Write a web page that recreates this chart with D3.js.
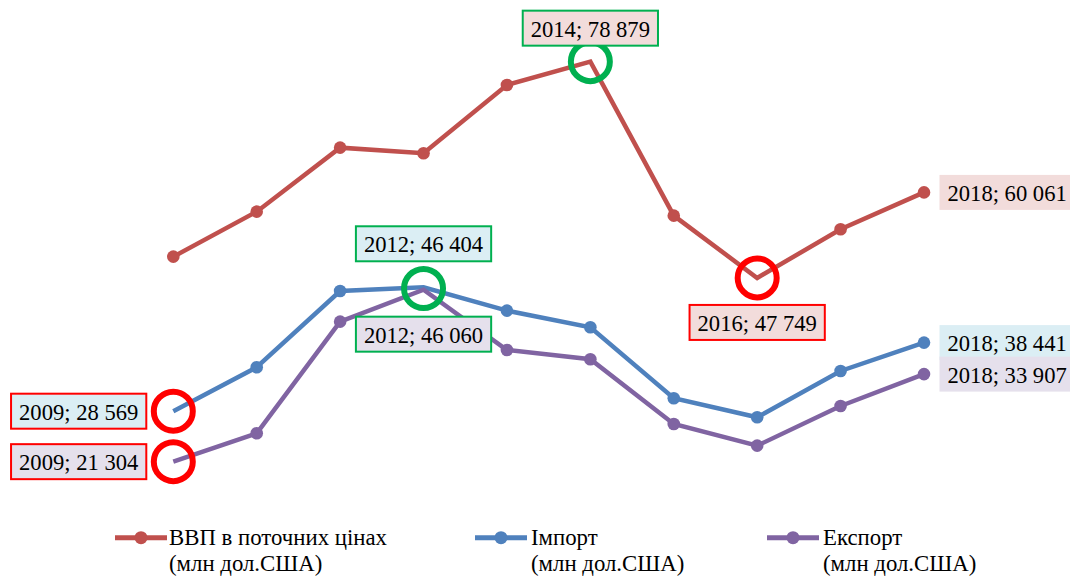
<!DOCTYPE html>
<html>
<head>
<meta charset="utf-8">
<script src="https://cdn.jsdelivr.net/npm/d3@7"></script>
<style>
  body { margin: 0; background: #fff; }
  svg { display: block; font-family: "Liberation Serif", "Times New Roman", serif; }
</style>
</head>
<body>
<svg width="1070" height="576"></svg>
<script>
// дані
const years = [2009, 2010, 2011, 2012, 2013, 2014, 2015, 2016, 2017, 2018]
const gdp = [50811, 57288, 66500, 65694, 75525, 78879, 56713, 47749, 54755, 60061]
const imports = [28569, 34892, 45874, 46404, 43039, 40649, 30430, 27695, 34359, 38441]
const exports = [21304, 25392, 41455, 46060, 37382, 36043, 26730, 23607, 29321, 33907]
const seriesNames = ["ВВП в поточних цінах", "Імпорт", "Експорт"]
const unitLabel = "(млн дол.США)"

const series = [
    { name: seriesNames[0], values: gdp, color: "#C0504D", fill: "#F2DCDB" },
    { name: seriesNames[1], values: imports, color: "#4F81BD", fill: "#DBEEF4" },
    { name: seriesNames[2], values: exports, color: "#8064A2", fill: "#E5E0EC" }
]

// позначені точки: [серія, рік, колір кола/рамки, розташування підпису]
const marked = [
    [1, 2009, "#FF0000", "left"],
    [2, 2009, "#FF0000", "left"],
    [1, 2012, "#00B050", "above"],
    [2, 2012, "#00B050", "below"],
    [0, 2014, "#00B050", "aboveTight"],
    [0, 2016, "#FF0000", "below"]
]
const endLabels = [0, 1, 2]

const svg = d3.select("svg")

const x = d3.scaleLinear()
    .domain([2009, 2018])
    .range([173.3, 924])

const y = d3.scaleLinear()
    .domain([10000, 90000])
    .range([540.2, -15.6])

const locale = d3.formatLocale({ decimal: ",", thousands: " ", grouping: [3], currency: ["", ""] })
const fmt = locale.format(",d")

const line = d3.line()
    .x((d, i) => x(years[i]))
    .y(d => y(d))

const isMarked = (s, yr) => marked.some(m => m[0] === s && m[1] === yr)

series.forEach((s, si) => {
    svg.append("path")
        .datum(s.values)
        .attr("d", line)
        .attr("fill", "none")
        .attr("stroke", s.color)
        .attr("stroke-width", 4.5)
        .attr("stroke-linejoin", "miter")

    svg.selectAll(".dot" + si)
        .data(s.values.map((v, i) => ({ v, yr: years[i] })).filter(d => !isMarked(si, d.yr)))
        .enter().append("circle")
        .attr("cx", d => x(d.yr))
        .attr("cy", d => y(d.v))
        .attr("r", 6.3)
        .attr("fill", s.color)
})

// кола навколо екстремумів
const rings = [
    [1, 2009, "#FF0000"], [2, 2009, "#FF0000"],
    [1, 2012, "#00B050"], [0, 2014, "#00B050"], [0, 2016, "#FF0000"]
]
svg.selectAll(".ring")
    .data(rings)
    .enter().append("circle")
    .attr("cx", d => x(d[1]))
    .attr("cy", d => d[1] === 2012 ? (y(imports[3]) + y(exports[3])) / 2 : y(series[d[0]].values[years.indexOf(d[1])]))
    .attr("r", 19.5)
    .attr("fill", "none")
    .attr("stroke", d => d[2])
    .attr("stroke-width", 6)

function label(si, yr, border, place) {
    const v = series[si].values[years.indexOf(yr)]
    const px = x(yr), py = y(v)
    const g = svg.append("g")
    const rect = g.append("rect")
    const t = g.append("text")
        .text(yr + "; " + fmt(v))
        .attr("font-size", 22.6)
        .attr("fill", "#000")
    const w = t.node().getComputedTextLength() + 16
    const h = 35
    let bx, by
    if (place === "left") { bx = px - 27 - w; by = py - h / 2 }
    else if (place === "above") { bx = px - w / 2; by = py - 26 - h }
    else if (place === "aboveTight") { bx = px - w / 2; by = py - 16 - h }
    else if (place === "below") { bx = px - w / 2; by = py + 27 }
    else { bx = px + 15.5; by = py - h / 2 }
    rect.attr("x", bx).attr("y", by).attr("width", w).attr("height", h)
        .attr("fill", series[si].fill)
        .attr("stroke", border || "none")
        .attr("stroke-width", 2)
    t.attr("x", bx + 8).attr("y", by + 26)
}

marked.forEach(m => label(m[0], m[1], m[2], m[3]))
endLabels.forEach(si => label(si, 2018, null, "right"))

// легенда
const legendX = [115, 475, 767]
const legend = svg.selectAll(".legend")
    .data(series)
    .enter().append("g")
    .attr("transform", (d, i) => `translate(${legendX[i]},537.7)`)

legend.append("line")
    .attr("x1", 0).attr("x2", 52)
    .attr("stroke", d => d.color)
    .attr("stroke-width", 5)
legend.append("circle")
    .attr("cx", 26).attr("r", 6.5)
    .attr("fill", d => d.color)

legend.append("text")
    .attr("x", (d, i) => i === 0 ? 54 : 56)
    .attr("y", 7)
    .attr("font-size", 22.8)
    .text(d => d.name)
legend.append("text")
    .attr("x", (d, i) => i === 0 ? 54 : 56)
    .attr("y", 33)
    .attr("font-size", 22.8)
    .text(unitLabel)
</script>
</body>
</html>
